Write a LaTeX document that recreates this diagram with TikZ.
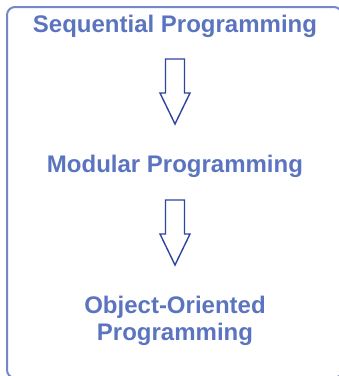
\documentclass[tikz,border=0pt]{standalone}
\usepackage{fontspec}
\setmainfont{Liberation Sans}
\usetikzlibrary{calc}
\definecolor{boxblue}{HTML}{7486CC}
\definecolor{textblue}{HTML}{5B74C0}
\definecolor{arrowblue}{HTML}{2E45A0}
\tikzset{
  label/.style={text=textblue, font=\fontsize{24}{27}\selectfont\bfseries, inner sep=0pt, align=center},
  frame/.style={draw=boxblue, line width=2pt, rounded corners=8pt},
  blockarrow/.style={draw=arrowblue, line width=1.4pt, fill=white, line join=miter}
}
\begin{document}
\begin{tikzpicture}[x=1pt,y=-1pt]
\useasboundingbox (0,0) rectangle (339,376);
\begin{scope}
\clip (0,0) rectangle (339,376);
\draw[frame] (7,7) rectangle (342,378);
\end{scope}
\node[label, anchor=base] (seq) at (175,32) {Sequential Programming};
\node[label, anchor=base] (mod) at (175,172) {Modular Programming};
\node[label, anchor=base] (oop) at (175,340) {Object-Oriented\\Programming};
% block arrows
\coordinate (a1) at ($(seq.base)+(0,27)$);
\coordinate (a2) at ($(mod.base)+(0,28)$);
\foreach \c in {a1,a2} {
  \draw[blockarrow] ($(\c)+(-9.5,0)$) -- ($(\c)+(9.5,0)$) -- ($(\c)+(9.5,34)$) -- ($(\c)+(15,34)$)
    -- ($(\c)+(0,65)$) -- ($(\c)+(-15,34)$) -- ($(\c)+(-9.5,34)$) -- cycle;
}
\end{tikzpicture}
\end{document}
